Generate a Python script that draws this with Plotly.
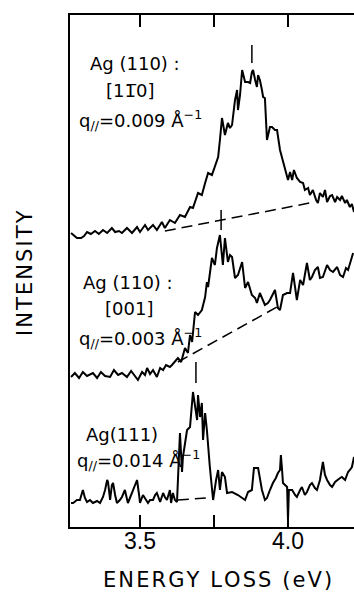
import plotly.graph_objects as go

# ---------------- data ----------------
# Energy loss (eV) and intensity (arbitrary units, spectra offset vertically)

# Ag(110) [1-10], q// = 0.009 1/A  (top spectrum)
e_top = [3.267, 3.277, 3.287, 3.301, 3.311, 3.321, 3.334, 3.348, 3.361, 3.375,
         3.389, 3.405, 3.416, 3.429, 3.439, 3.456, 3.473, 3.490, 3.500, 3.517,
         3.527, 3.544, 3.557, 3.574, 3.584, 3.601, 3.618, 3.635, 3.652, 3.669,
         3.679, 3.696, 3.709, 3.720, 3.730, 3.743, 3.753, 3.764, 3.770, 3.777,
         3.787, 3.797, 3.804, 3.811, 3.821, 3.828, 3.831, 3.838, 3.845, 3.851,
         3.855, 3.865, 3.872, 3.878, 3.882, 3.889, 3.895, 3.899, 3.905, 3.912,
         3.916, 3.922, 3.929, 3.939, 3.946, 3.956, 3.963, 3.973, 3.986, 4.000,
         4.007, 4.014, 4.020, 4.030, 4.041, 4.051, 4.057, 4.068, 4.074, 4.084,
         4.095, 4.101, 4.108, 4.118, 4.125, 4.132, 4.142, 4.149, 4.159, 4.166,
         4.176, 4.182, 4.193, 4.199, 4.209, 4.216, 4.223]
i_top = [294, 291, 289, 289, 291, 295, 293, 296, 293, 297,
         294, 299, 295, 296, 294, 299, 294, 300, 295, 302,
         297, 302, 297, 305, 299, 307, 304, 312, 310, 320,
         319, 334, 332, 344, 354, 352, 360, 370, 387, 409,
         392, 404, 399, 402, 427, 437, 417, 432, 457, 449,
         445, 445, 444, 455, 457, 447, 440, 452, 447, 437,
         430, 429, 387, 400, 400, 397, 397, 377, 362, 347,
         355, 347, 357, 349, 345, 344, 337, 339, 332, 337,
         327, 324, 334, 330, 337, 325, 331, 332, 325, 330,
         327, 331, 324, 327, 320, 323, 315]

# Ag(110) [001], q// = 0.003 1/A  (middle spectrum)
e_mid = [3.267, 3.280, 3.294, 3.307, 3.321, 3.341, 3.355, 3.368, 3.382, 3.399,
         3.412, 3.426, 3.439, 3.456, 3.470, 3.483, 3.493, 3.507, 3.517, 3.524,
         3.534, 3.544, 3.557, 3.568, 3.578, 3.588, 3.601, 3.608, 3.618, 3.628,
         3.639, 3.652, 3.662, 3.669, 3.676, 3.686, 3.696, 3.709, 3.720, 3.726,
         3.730, 3.743, 3.753, 3.760, 3.770, 3.780, 3.787, 3.797, 3.804, 3.811,
         3.821, 3.831, 3.845, 3.855, 3.865, 3.878, 3.889, 3.895, 3.905, 3.916,
         3.922, 3.932, 3.939, 3.956, 3.966, 3.973, 3.983, 3.997, 4.007, 4.017,
         4.024, 4.030, 4.041, 4.051, 4.064, 4.074, 4.081, 4.091, 4.101, 4.108,
         4.118, 4.132, 4.142, 4.152, 4.166, 4.176, 4.186, 4.196, 4.203, 4.213,
         4.220]
i_mid = [150, 154, 149, 155, 151, 154, 149, 155, 151, 150,
         157, 152, 154, 150, 156, 151, 147, 155, 152, 159,
         153, 157, 150, 159, 157, 162, 160, 162, 165, 169,
         165, 179, 174, 192, 185, 215, 212, 217, 230, 245,
         240, 269, 262, 279, 292, 262, 289, 265, 272, 270,
         249, 252, 265, 239, 245, 232, 229, 224, 234, 227,
         222, 224, 227, 237, 219, 217, 232, 234, 234, 254,
         237, 227, 247, 242, 264, 247, 250, 257, 260, 249,
         250, 262, 257, 255, 260, 252, 250, 259, 257, 267,
         274]

# Ag(111), q// = 0.014 1/A  (bottom spectrum)
e_bot = [3.267, 3.274, 3.287, 3.297, 3.307, 3.314, 3.321, 3.331, 3.341, 3.355,
         3.365, 3.375, 3.382, 3.389, 3.392, 3.399, 3.405, 3.409, 3.416, 3.422,
         3.432, 3.439, 3.449, 3.459, 3.466, 3.473, 3.483, 3.490, 3.497, 3.500,
         3.510, 3.520, 3.527, 3.534, 3.544, 3.551, 3.557, 3.568, 3.578, 3.584,
         3.591, 3.601, 3.605, 3.611, 3.618, 3.625, 3.635, 3.642, 3.645, 3.659,
         3.669, 3.679, 3.686, 3.693, 3.696, 3.703, 3.709, 3.713, 3.720, 3.726,
         3.736, 3.747, 3.757, 3.764, 3.770, 3.777, 3.787, 3.794, 3.811, 3.831,
         3.855, 3.865, 3.878, 3.885, 3.899, 3.912, 3.922, 3.929, 3.939, 3.949,
         3.959, 3.966, 3.973, 3.976, 3.980, 3.983, 3.997, 4.000, 4.003, 4.014,
         4.024, 4.030, 4.041, 4.047, 4.057, 4.064, 4.074, 4.081, 4.091, 4.098,
         4.108, 4.118, 4.125, 4.132, 4.142, 4.149, 4.159, 4.166, 4.176, 4.182,
         4.193, 4.199, 4.203, 4.209, 4.216, 4.223]
i_bot = [24, 24, 27, 27, 37, 29, 25, 27, 24, 26,
         24, 30, 37, 47, 45, 27, 42, 44, 32, 24,
         27, 30, 37, 24, 29, 34, 42, 47, 32, 24,
         32, 27, 24, 27, 27, 32, 34, 25, 34, 30,
         27, 37, 24, 34, 27, 25, 94, 55, 70, 97,
         100, 135, 122, 107, 132, 110, 124, 87, 114, 97,
         60, 27, 47, 57, 37, 55, 50, 34, 35, 32,
         27, 35, 37, 59, 59, 37, 27, 29, 37, 44,
         49, 54, 57, 72, 57, 44, 40, 7, 37, 37,
         32, 30, 37, 40, 32, 35, 42, 44, 39, 37,
         47, 65, 52, 47, 42, 40, 45, 47, 49, 50,
         47, 52, 55, 57, 60, 70]

# dashed background lines (start / end)
bg_top_e = [3.584, 4.091]
bg_top_i = [296, 325]
bg_mid_e = [3.628, 3.963]
bg_mid_i = [165, 220]
bg_bot_e = [3.628, 3.726]
bg_bot_i = [27, 29]

# vertical peak markers: energy, lower and upper intensity
peak_e = [3.878, 3.774, 3.689]
peak_lo = [464, 297, 144]
peak_hi = [482, 317, 165]

# axes
x_range = [3.2635, 4.223]
y_range = [0, 512]
x_tickvals = [3.5, 3.75, 4.0]
x_ticktext = ["3.5", "", "4.0"]

# labels: (text, energy, intensity, anchor)
labels = [
    ("Ag (110) :", 3.483, 464, "center"),
    ("[11\u03050]", 3.466, 437, "center"),
    ("q<sub>//</sub>=0.009 Å<sup>−1</sup>", 3.287, 407, "left"),
    ("Ag (110) :", 3.459, 245, "center"),
    ("[001]", 3.463, 219, "center"),
    ("q<sub>//</sub>=0.003 Å<sup>−1</sup>", 3.287, 189, "left"),
    ("Ag(111)", 3.439, 93, "center"),
    ("q<sub>//</sub>=0.014 Å<sup>−1</sup>", 3.280, 67, "left"),
]
x_title = "ENERGY LOSS (eV)"
y_title = "INTENSITY"

# ---------------- figure ----------------
FONT = "DejaVu Sans"
INK = "black"


def spaced(s):
    return "\u200a".join(s)


fig = go.Figure()
for ex, iy in [(e_top, i_top), (e_mid, i_mid), (e_bot, i_bot)]:
    fig.add_trace(go.Scatter(x=ex, y=iy, mode="lines",
                             line=dict(color=INK, width=2), hoverinfo="skip"))
for ex, iy in [(bg_top_e, bg_top_i), (bg_mid_e, bg_mid_i), (bg_bot_e, bg_bot_i)]:
    fig.add_trace(go.Scatter(x=ex, y=iy, mode="lines",
                             line=dict(color=INK, width=1.5, dash="11px,6px"),
                             hoverinfo="skip"))
px, py = [], []
for e, lo, hi in zip(peak_e, peak_lo, peak_hi):
    px += [e, e, None]
    py += [lo, hi, None]
fig.add_trace(go.Scatter(x=px, y=py, mode="lines",
                         line=dict(color=INK, width=1.5), hoverinfo="skip"))

for text, e, iy, anchor in labels:
    fig.add_annotation(x=e, y=iy, xref="x", yref="y", text=text,
                       showarrow=False, xanchor=anchor, yanchor="middle",
                       font=dict(family=FONT, size=18, color=INK))

fig.add_annotation(x=0.518, y=-0.103, xref="paper", yref="paper",
                   text=spaced(x_title), showarrow=False,
                   xanchor="center", yanchor="middle",
                   font=dict(family=FONT, size=21, color=INK))
fig.add_annotation(x=-0.16, y=0.495, xref="paper", yref="paper",
                   text=spaced(y_title), showarrow=False, textangle=-90,
                   xanchor="center", yanchor="middle",
                   font=dict(family=FONT, size=21, color=INK))

fig.update_layout(
    width=354, height=593,
    margin=dict(l=70, r=0, t=15, b=66),
    paper_bgcolor="white", plot_bgcolor="white",
    showlegend=False,
    xaxis=dict(range=x_range, tickvals=x_tickvals, ticktext=x_ticktext,
               ticks="inside", ticklen=12, tickwidth=1.5, tickcolor=INK,
               ticklabelstandoff=-7,
               showline=True, linecolor=INK, linewidth=1.5, mirror="ticks",
               showgrid=False, zeroline=False,
               tickfont=dict(family="Liberation Sans", size=23, color=INK)),
    yaxis=dict(range=y_range, showticklabels=False, ticks="",
               showline=True, linecolor=INK, linewidth=1.5,
               showgrid=False, zeroline=False),
)

fig.write_html("out.html")
